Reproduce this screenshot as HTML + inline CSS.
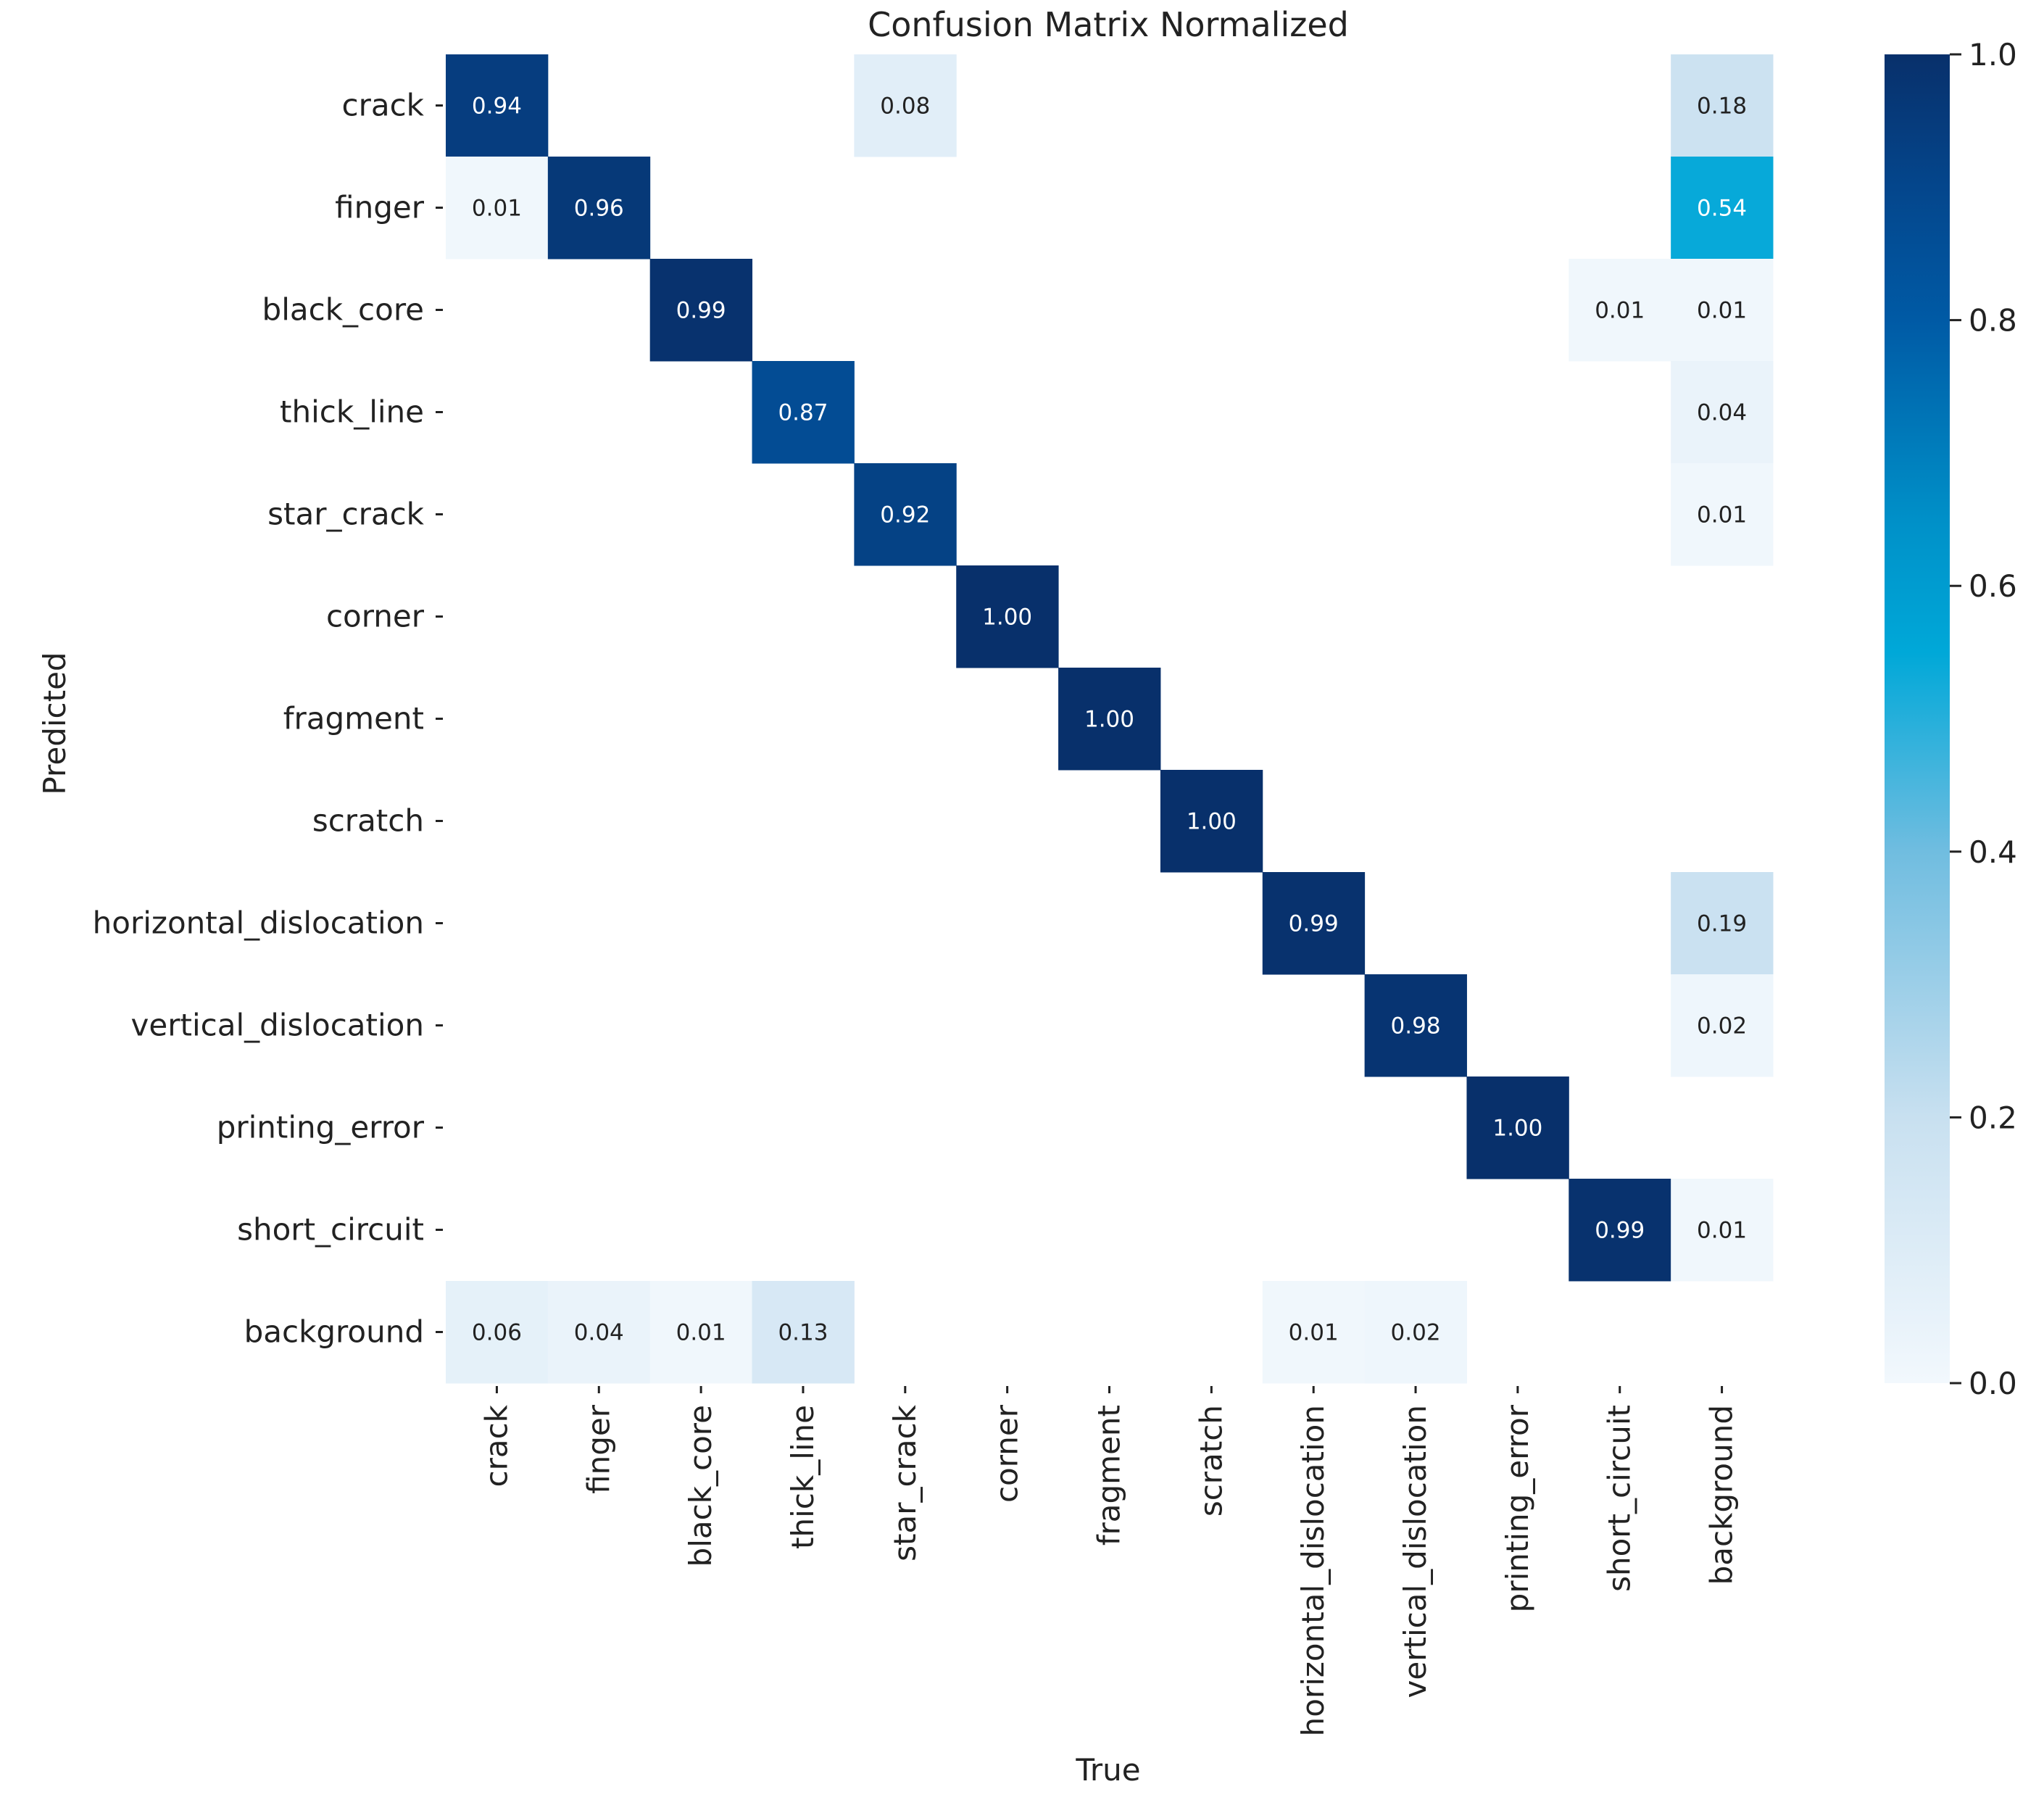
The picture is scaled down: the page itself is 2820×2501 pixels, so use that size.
<!DOCTYPE html>
<html><head><meta charset="utf-8"><style>
html,body{margin:0;padding:0;background:#fff;}
svg{display:block;font-family:"DejaVu Sans","Liberation Sans",sans-serif;}
</style></head><body>
<svg id="chart" width="2820" height="2501" viewBox="0 0 2820 2501" xmlns="http://www.w3.org/2000/svg">
<defs>
<linearGradient id="cbar" x1="0" y1="1" x2="0" y2="0">
<stop offset="0" stop-color="#f2f8fd"/>
<stop offset="0.2" stop-color="#c8e0f0"/>
<stop offset="0.4" stop-color="#70bde0"/>
<stop offset="0.55" stop-color="#00a8d8"/>
<stop offset="0.65" stop-color="#0090c8"/>
<stop offset="0.8" stop-color="#005aa5"/>
<stop offset="0.9" stop-color="#04468c"/>
<stop offset="1" stop-color="#08306b"/>
</linearGradient>
</defs>
<text x="1529" y="50" font-size="46" text-anchor="middle" fill="#222">Confusion Matrix Normalized</text>
<g id="cells"></g>
<g id="yaxis"></g>
<g id="xaxis"></g>
<text x="1529" y="2456" font-size="42" text-anchor="middle" fill="#222">True</text>
<text x="90" y="998" font-size="42" text-anchor="middle" fill="#222" transform="rotate(-90 90 998)">Predicted</text>
<rect x="2600" y="75" width="90" height="1833" fill="url(#cbar)"/>
<g id="cbaxis"></g>
</svg>
<script>
const labels = ["crack","finger","black_core","thick_line","star_crack","corner","fragment","scratch","horizontal_dislocation","vertical_dislocation","printing_error","short_circuit","background"];
const rowCrack = [0.94,0,0,0,0.08,0,0,0,0,0,0,0,0.18];
const rowFinger = [0.01,0.96,0,0,0,0,0,0,0,0,0,0,0.54];
const rowBlackCore = [0,0,0.99,0,0,0,0,0,0,0,0,0.01,0.01];
const rowThickLine = [0,0,0,0.87,0,0,0,0,0,0,0,0,0.04];
const rowStarCrack = [0,0,0,0,0.92,0,0,0,0,0,0,0,0.01];
const rowCorner = [0,0,0,0,0,1.00,0,0,0,0,0,0,0];
const rowFragment = [0,0,0,0,0,0,1.00,0,0,0,0,0,0];
const rowScratch = [0,0,0,0,0,0,0,1.00,0,0,0,0,0];
const rowHoriz = [0,0,0,0,0,0,0,0,0.99,0,0,0,0.19];
const rowVert = [0,0,0,0,0,0,0,0,0,0.98,0,0,0.02];
const rowPrint = [0,0,0,0,0,0,0,0,0,0,1.00,0,0];
const rowShort = [0,0,0,0,0,0,0,0,0,0,0,0.99,0.01];
const rowBackground = [0.06,0.04,0.01,0.13,0,0,0,0,0.01,0.02,0,0,0];
const matrix = [rowCrack,rowFinger,rowBlackCore,rowThickLine,rowStarCrack,rowCorner,rowFragment,rowScratch,rowHoriz,rowVert,rowPrint,rowShort,rowBackground];
const cbTicks = [0,0.2,0.4,0.6,0.8,1.0];

const L=615,R=2446,T=75,B=1908;
const n=labels.length, cw=(R-L)/n, ch=(B-T)/n;
const xs=i=>L+i*cw, ys=j=>T+j*ch;
const cbY=v=>B-(v)*(B-T);
const stops=[[0,[242,248,253]],[0.2,[200,224,240]],[0.4,[112,189,224]],[0.55,[0,168,216]],[0.65,[0,144,200]],[0.8,[0,90,165]],[0.9,[4,70,140]],[1,[8,48,107]]];
function color(v){for(let k=1;k<stops.length;k++){if(v<=stops[k][0]){const a=stops[k-1],b=stops[k];const t=(v-a[0])/(b[0]-a[0]);const c=a[1].map((x,i)=>Math.round(x+(b[1][i]-x)*t));return `rgb(${c})`;}}return 'rgb(8,48,107)';}
const NS="http://www.w3.org/2000/svg";
function mk(tag,attrs,parent){const e=document.createElementNS(NS,tag);for(const k in attrs)e.setAttribute(k,attrs[k]);parent.appendChild(e);return e;}
const cells=document.getElementById('cells');
matrix.forEach((row,j)=>row.forEach((v,i)=>{
  if(v<0.005)return;
  const r=mk('rect',{x:xs(i),y:ys(j),width:cw+0.5,height:ch+0.5,fill:color(v)},cells);
  
  
  const t=mk('text',{x:xs(i)+cw/2,y:ys(j)+ch/2+11,'font-size':31,'text-anchor':'middle',fill:v>0.5?'#fff':'#222'},cells);
  t.textContent=v.toFixed(2);
  
  
}));
const ya=document.getElementById('yaxis');
labels.forEach((lab,j)=>{
  const cy=ys(j)+ch/2;
  const l=mk('line',{x1:L-14,x2:L-4,y1:cy,y2:cy,stroke:'#222','stroke-width':3},ya);
  
  
  const t=mk('text',{x:L-30,y:cy+14,'font-size':42,'text-anchor':'end',fill:'#222'},ya);
  t.textContent=lab;
  
  
});
const xa=document.getElementById('xaxis');
labels.forEach((lab,i)=>{
  const cx=xs(i)+cw/2;
  const l=mk('line',{x1:cx,x2:cx,y1:B+4,y2:B+14,stroke:'#222','stroke-width':3},xa);
  
  
  const ty=B+30;
  const t=mk('text',{x:cx+14,y:ty,'font-size':42,'text-anchor':'end',fill:'#222',transform:`rotate(-90 ${cx+14} ${ty})`},xa);
  t.textContent=lab;
  
  
});
const ca=document.getElementById('cbaxis');
cbTicks.forEach(v=>{
  const y=cbY(v);
  const l=mk('line',{x1:2690,x2:2706,y1:y,y2:y,stroke:'#222','stroke-width':3},ca);
  
  
  const t=mk('text',{x:2716,y:y+15,'font-size':42,fill:'#222'},ca);
  t.textContent=v.toFixed(1);
  
  
});
</script>
</body></html>
